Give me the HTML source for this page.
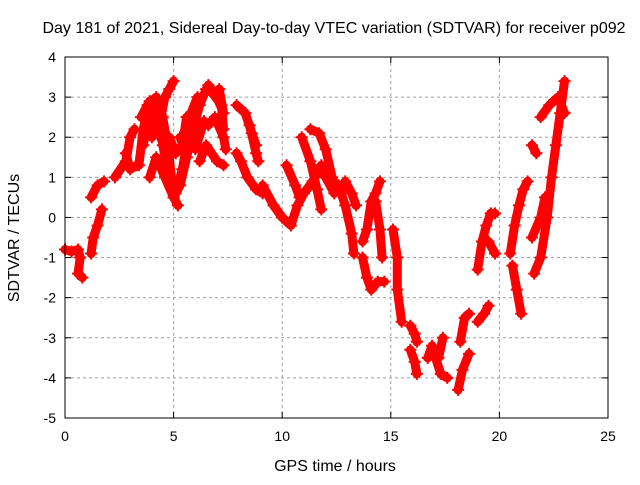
<!DOCTYPE html>
<html><head><meta charset="utf-8"><style>
body{margin:0;background:#fff}
svg text{font-family:"Liberation Sans",sans-serif;font-size:14px;fill:#000}
svg text.big{font-size:16px}
</style></head><body>
<svg id="chart" width="640" height="480">
<rect width="640" height="480" fill="#fff"/>
<text class="big" x="334" y="33" text-anchor="middle">Day 181 of 2021, Sidereal Day-to-day VTEC variation (SDTVAR) for receiver p092</text>
<text class="big" x="335" y="471" text-anchor="middle">GPS time / hours</text>
<text class="big" x="0" y="0" text-anchor="middle" transform="translate(19,238) rotate(-90)">SDTVAR / TECUs</text>
<g id="grid"></g><g id="marks"></g><g id="axes"></g>
</svg>
<script>
const xTicks=[0,5,10,15,20,25];
const yTicks=[-5,-4,-3,-2,-1,0,1,2,3,4];
const tracks=[
[[0,-0.8],[0.3,-0.85],[0.6,-0.8],[0.7,-1.0],[0.6,-1.4],[0.8,-1.5]],
[[1.2,-0.9],[1.3,-0.5],[1.5,-0.2],[1.7,0.2]],
[[1.2,0.5],[1.5,0.8],[1.8,0.9]],
[[2.3,1.0],[2.8,1.4],[3.0,2.0],[3.2,2.2]],
[[2.8,1.6],[3.0,1.2],[3.3,1.3]],
[[3.5,2.5],[3.8,2.8],[4.2,3.0],[4.5,2.5],[4.8,1.5],[5.0,0.5],[5.2,0.3]],
[[3.6,1.8],[3.9,2.6],[4.3,2.2],[4.6,3.0],[4.8,3.2],[5.0,3.4]],
[[3.4,1.3],[3.6,2.2],[3.9,2.9],[4.1,2.5],[4.4,2.0],[4.7,1.6]],
[[4.0,2.0],[4.3,2.6],[4.5,1.8],[4.8,1.0],[5.1,0.6],[5.4,1.2],[5.6,1.8]],
[[3.9,1.0],[4.2,1.5],[4.6,1.0],[5.0,0.5],[5.3,0.8],[5.6,1.5],[5.9,2.2],[6.2,2.8],[6.5,3.2],[6.8,3.1],[7.2,2.8],[7.3,2.2]],
[[4.8,2.0],[5.1,1.6],[5.4,1.8],[5.6,2.5]],
[[5.3,2.0],[5.6,1.5],[5.8,2.6],[6.1,3.0]],
[[6.6,3.3],[7.0,3.0],[7.3,2.6],[7.1,3.2]],
[[6.0,1.7],[6.4,2.4],[6.6,2.3],[6.9,2.5],[7.3,2.0],[7.4,1.7]],
[[6.2,1.4],[6.5,1.8],[7.0,1.4],[7.3,1.3]],
[[7.9,2.8],[8.3,2.6],[8.6,2.1],[8.8,1.8]],
[[7.9,1.6],[8.1,1.4],[8.4,1.0],[8.8,0.7],[9.1,0.6]],
[[8.5,2.3],[8.8,1.6],[8.9,1.4]],
[[9.1,0.8],[9.6,0.3],[10.0,0.0],[10.4,-0.2],[10.7,0.3],[11.0,0.6],[11.4,0.9],[11.8,1.3],[12.0,1.0],[12.4,0.6]],
[[10.9,2.0],[11.3,1.4],[11.6,0.7],[11.8,0.2]],
[[11.3,2.2],[11.7,2.1],[12.0,1.7],[12.3,1.0],[12.5,0.7]],
[[10.2,1.3],[10.6,0.8],[10.8,0.5]],
[[12.6,0.8],[12.9,0.3],[13.2,-0.4],[13.3,-0.9]],
[[12.9,0.9],[13.2,0.6],[13.4,0.3]],
[[13.7,-0.6],[13.9,-0.3],[14.1,0.4],[14.3,0.6],[14.5,0.9]],
[[14.3,0.4],[14.5,-0.3],[14.6,-1.0]],
[[13.7,-1.0],[13.9,-1.5],[14.1,-1.8],[14.4,-1.6],[14.7,-1.6]],
[[15.1,-0.3],[15.3,-1.0],[15.3,-1.8],[15.5,-2.6]],
[[15.9,-2.7],[16.1,-2.9],[16.2,-3.1]],
[[15.9,-3.3],[16.1,-3.6],[16.2,-3.9]],
[[16.7,-3.5],[16.9,-3.2],[17.0,-3.4],[17.3,-3.9],[17.6,-4.0]],
[[17.2,-3.5],[17.4,-3.0]],
[[18.1,-4.3],[18.3,-3.8],[18.6,-3.4]],
[[18.2,-3.1],[18.4,-2.5],[18.6,-2.4]],
[[19.0,-2.6],[19.3,-2.4],[19.5,-2.2]],
[[19.0,-1.3],[19.2,-0.6],[19.4,-0.2],[19.6,0.1],[19.8,0.1]],
[[19.5,-0.6],[19.8,-0.9]],
[[20.5,-0.9],[20.7,-0.2],[20.9,0.3],[21.1,0.7],[21.3,0.9]],
[[20.6,-1.2],[20.8,-1.8],[21.0,-2.4]],
[[21.6,-1.4],[21.9,-1.0],[22.2,0.0],[22.4,1.0],[22.6,1.8],[22.8,2.6],[23.0,3.4]],
[[21.5,1.8],[21.7,1.6]],
[[21.5,-0.5],[21.9,0.0],[22.1,0.5]],
[[21.9,2.5],[22.3,2.8],[22.7,3.0],[23.0,2.6]]
];
const NS="http://www.w3.org/2000/svg";
const X0=65,X1=608,Y0=418,Y1=57;
const xs=h=>X0+(h-0)/(25-0)*(X1-X0);
const ys=v=>Y0-(v+5)/9*(Y0-Y1);
function mk(t,a,p){const e=document.createElementNS(NS,t);for(const k in a)e.setAttribute(k,a[k]);p.appendChild(e);return e;}
const grid=document.getElementById('grid'),axes=document.getElementById('axes'),marks=document.getElementById('marks');
xTicks.forEach(t=>{const x=xs(t);
 if(t>0&&t<25){const g=mk('line',{x1:x,x2:x,y1:Y1,y2:Y0,stroke:'#a0a0a0','stroke-dasharray':'3,3'},grid);
 
 }
 mk('line',{x1:x,x2:x,y1:Y0,y2:Y0-6,stroke:'#000'},axes);mk('line',{x1:x,x2:x,y1:Y1,y2:Y1+6,stroke:'#000'},axes);
 const tx=mk('text',{x:x,y:Y0+23,'text-anchor':'middle'},axes);tx.textContent=t;
 
 });
yTicks.forEach(t=>{const y=ys(t);
 if(t>-5&&t<4){const g=mk('line',{x1:X0,x2:X1,y1:y,y2:y,stroke:'#a0a0a0','stroke-dasharray':'3,3'},grid);
 
 }
 mk('line',{x1:X0,x2:X0+6,y1:y,y2:y,stroke:'#000'},axes);mk('line',{x1:X1,x2:X1-6,y1:y,y2:y,stroke:'#000'},axes);
 const tx=mk('text',{x:X0-9,y:y+5,'text-anchor':'end'},axes);tx.textContent=t;
 
 });
const b=mk('rect',{x:X0,y:Y1,width:X1-X0,height:Y0-Y1,fill:'none',stroke:'#000'},axes);


tracks.forEach(tr=>{
 const pl=mk('polyline',{points:tr.map(p=>xs(p[0])+','+ys(p[1])).join(' '),fill:'none',stroke:'#f00','stroke-width':9,'stroke-linejoin':'round','stroke-linecap':'round'},marks);
 
 
 tr.forEach(p=>{const x=xs(p[0]),y=ys(p[1]);
  const m=mk('path',{d:`M${x-6},${y}H${x+6}M${x},${y-6}V${y+6}`,stroke:'#f00','stroke-width':2},marks);
  
  });
});
</script>
</body></html>
